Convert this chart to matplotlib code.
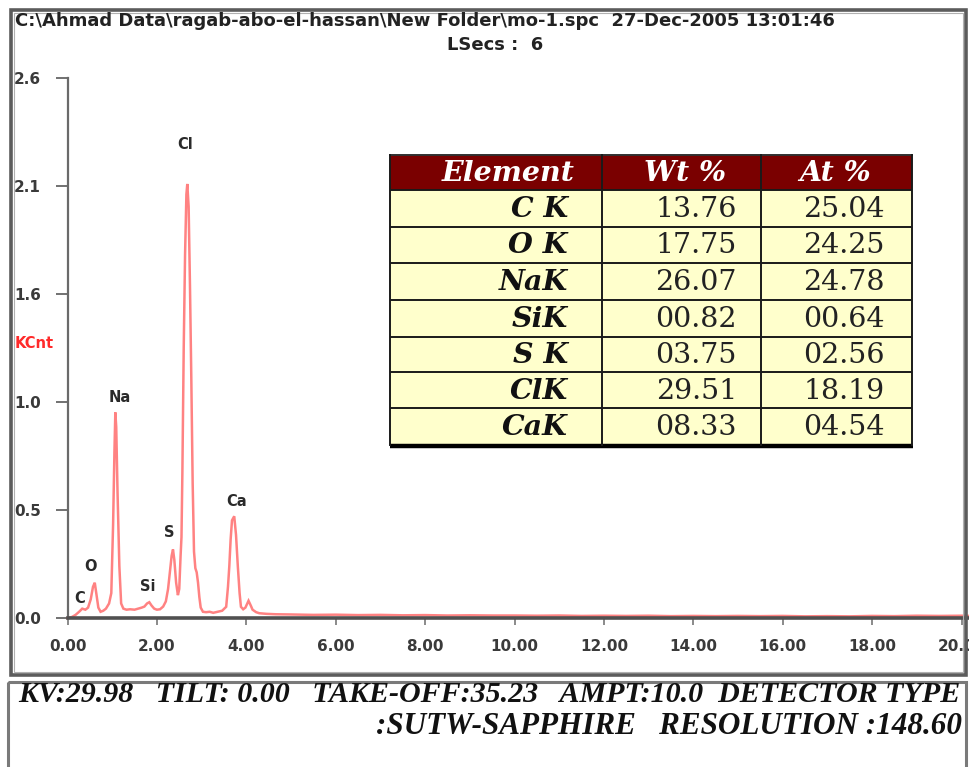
import matplotlib
matplotlib.use("Agg")
import matplotlib.pyplot as plt
from matplotlib.patches import Rectangle

# ---------------- data ----------------
energy_kev = [0.00, 0.10, 0.18, 0.26, 0.33, 0.40, 0.46, 0.52, 0.57, 0.61, 0.65, 0.69,
              0.74, 0.80, 0.86, 0.93, 0.98, 1.02, 1.05, 1.07, 1.09, 1.12, 1.16, 1.20,
              1.25, 1.32, 1.40, 1.50, 1.58, 1.66, 1.72, 1.78, 1.83, 1.88, 1.94, 2.00,
              2.07, 2.14, 2.20, 2.25, 2.29, 2.33, 2.36, 2.39, 2.43, 2.47, 2.50, 2.53,
              2.55, 2.57, 2.60, 2.63, 2.66, 2.68, 2.71, 2.74, 2.77, 2.80, 2.83, 2.86,
              2.89, 2.92, 2.95, 2.98, 3.03, 3.10, 3.18, 3.26, 3.36, 3.46, 3.55, 3.59,
              3.62, 3.65, 3.68, 3.73, 3.77, 3.81, 3.85, 3.88, 3.93, 3.98, 4.05, 4.10,
              4.14, 4.22, 4.29, 4.45, 4.66, 5.00, 5.50, 6.00, 6.50, 7.00, 7.50, 8.00,
              8.50, 9.00, 9.50, 10.00, 10.50, 11.00, 11.50, 12.00, 12.50, 13.00, 13.50,
              14.00, 14.50, 15.00, 15.50, 16.00, 16.50, 17.00, 17.50, 18.00, 18.50,
              19.00, 19.50, 20.00, 20.20]
counts_kcnt = [0.000, 0.005, 0.015, 0.030, 0.045, 0.040, 0.050, 0.090, 0.150, 0.170, 0.110, 0.050,
               0.030, 0.035, 0.045, 0.070, 0.120, 0.450, 0.800, 0.990, 0.920, 0.600, 0.250, 0.070,
               0.045, 0.040, 0.042, 0.040, 0.045, 0.050, 0.055, 0.070, 0.076, 0.060, 0.045, 0.040,
               0.042, 0.055, 0.080, 0.140, 0.220, 0.300, 0.330, 0.280, 0.170, 0.110, 0.140, 0.300,
               0.390, 0.700, 1.300, 1.750, 2.040, 2.090, 1.980, 1.600, 1.150, 0.650, 0.320, 0.240,
               0.220, 0.170, 0.100, 0.050, 0.030, 0.028, 0.030, 0.025, 0.030, 0.035, 0.054, 0.150,
               0.250, 0.380, 0.470, 0.490, 0.400, 0.250, 0.120, 0.054, 0.042, 0.050, 0.083, 0.060,
               0.040, 0.028, 0.023, 0.020, 0.018, 0.017, 0.015, 0.016, 0.014, 0.015, 0.013, 0.014,
               0.012, 0.013, 0.012, 0.012, 0.011, 0.012, 0.010, 0.011, 0.010, 0.011, 0.009,
               0.010, 0.009, 0.010, 0.009, 0.010, 0.008, 0.009, 0.008, 0.010, 0.009,
               0.011, 0.010, 0.011, 0.010]

peak_labels = ["C", "O", "Na", "Si", "S", "Cl", "Ca"]
peak_label_x = [0.27, 0.51, 1.18, 1.80, 2.27, 2.64, 3.78]
peak_label_y = [0.096, 0.25, 1.06, 0.15, 0.41, 2.28, 0.56]

x_tick_values = [0, 2, 4, 6, 8, 10, 12, 14, 16, 18, 20]
x_tick_labels = ["0.00", "2.00", "4.00", "6.00", "8.00", "10.00", "12.00",
                 "14.00", "16.00", "18.00", "20.00"]
y_tick_values = [0.0, 0.52, 1.04, 1.56, 2.08, 2.6]
y_tick_labels = ["0.0", "0.5", "1.0", "1.6", "2.1", "2.6"]

table_header = ["Element", "Wt %", "At %"]
table_elements = ["C K", "O K", "NaK", "SiK", "S K", "ClK", "CaK"]
table_wt = [13.76, 17.75, 26.07, 0.82, 3.75, 29.51, 8.33]
table_at = [25.04, 24.25, 24.78, 0.64, 2.56, 18.19, 4.54]

header_line1 = "C:\\Ahmad Data\\ragab-abo-el-hassan\\New Folder\\mo-1.spc  27-Dec-2005 13:01:46"
header_line2 = "LSecs :  6"
footer_line1 = "KV:29.98   TILT: 0.00   TAKE-OFF:35.23   AMPT:10.0  DETECTOR TYPE"
footer_line2 = ":SUTW-SAPPHIRE   RESOLUTION :148.60"

# ---------------- figure ----------------
W, H = 969, 767
fig = plt.figure(figsize=(W / 100, H / 100), dpi=100)
fig.patch.set_facecolor("white")

px_per_kev = 44.7
ax_left, ax_right = 67.5, 969
ax_bottom, ax_top = 618, 78
ax = fig.add_axes([ax_left / W, (H - ax_bottom) / H,
                   (ax_right - ax_left) / W, (ax_bottom - ax_top) / H])
ax.set_zorder(2)
ax.patch.set_alpha(0)
ax.plot(energy_kev, counts_kcnt, color="#ff4d4d", lw=1.8, alpha=0.7,
        solid_joinstyle="miter", clip_on=False)
ax.set_xlim(0, (ax_right - ax_left) / px_per_kev)
ax.set_ylim(0, 2.6)

for s in ["top", "right"]:
    ax.spines[s].set_visible(False)
ax.spines["left"].set_color("#6a6a6a")
ax.spines["left"].set_linewidth(1.6)
ax.spines["bottom"].set_color("#505050")
ax.spines["bottom"].set_linewidth(2.6)

ax.set_xticks(x_tick_values)
ax.set_xticklabels(x_tick_labels)
ax.set_yticks(y_tick_values)
ax.set_yticklabels(y_tick_labels)
ax.tick_params(axis="x", direction="out", length=5, width=1.2, color="#777777",
               pad=10, labelsize=11, labelcolor="#3a3a3a")
ax.tick_params(axis="y", direction="out", length=8.6, width=1.3, color="#666666",
               pad=30, labelsize=11, labelcolor="#3a3a3a")
for lab in ax.get_xticklabels() + ax.get_yticklabels():
    lab.set_fontweight("bold")
    lab.set_family("DejaVu Sans")
for lab in ax.get_yticklabels():
    lab.set_horizontalalignment("left")

for name, lx, ly in zip(peak_labels, peak_label_x, peak_label_y):
    ax.text(lx, ly, name, ha="center", va="center", fontsize=10.5,
            fontweight="bold", color="#2a2a2a", family="DejaVu Sans")

# ---------------- overlay (pixel coordinates) ----------------
ov = fig.add_axes([0, 0, 1, 1])
ov.set_xlim(0, W)
ov.set_ylim(H, 0)
ov.axis("off")
ov.set_zorder(3)
ov.patch.set_alpha(0)

# window frames
ov.add_patch(Rectangle((11, 10), 955, 665, fill=False, ec="#5c5c5c", lw=2.6))
ov.add_patch(Rectangle((14, 13), 949, 659, fill=False, ec="#b0b0b0", lw=0.8))
ov.add_patch(Rectangle((8, 682), 958, 100, fill=False, ec="#7a7a7a", lw=2.2))

# header texts
t1 = ov.text(15, 21, header_line1, ha="left", va="center", fontsize=11,
             fontweight="bold", color="#222222", family="DejaVu Sans")
t2 = ov.text(495, 45, header_line2, ha="center", va="center", fontsize=11,
             fontweight="bold", color="#222222", family="DejaVu Sans")
ov.text(15, 343, "KCnt", ha="left", va="center", fontsize=10.5,
        fontweight="bold", color="#ff2a2a", family="DejaVu Sans")

# footer texts
f1 = ov.text(18, 694, footer_line1, ha="left", va="center", fontsize=20,
             fontweight="bold", style="italic", color="#111111",
             family="Liberation Serif")
f2 = ov.text(962, 727, footer_line2, ha="right", va="center", fontsize=20,
             fontweight="bold", style="italic", color="#111111",
             family="Liberation Serif")

# table
tx0, tx1, tx2, tx3 = 390, 602, 761, 912
row_edges = [155, 190, 226.5, 263, 300, 336.7, 372.3, 408.3, 445]
ov.add_patch(Rectangle((tx0, row_edges[0]), tx3 - tx0, row_edges[1] - row_edges[0],
                       fc="#7a0000", ec="none"))
ov.add_patch(Rectangle((tx0, row_edges[1]), tx3 - tx0, row_edges[-1] - row_edges[1],
                       fc="#ffffcc", ec="none"))
for ye in row_edges[1:-1]:
    ov.plot([tx0, tx3], [ye, ye], color="#1a1a1a", lw=1.4, solid_capstyle="butt")
ov.plot([tx0, tx3], [row_edges[0], row_edges[0]], color="#303030", lw=1.4)
ov.plot([tx0, tx3 + 1], [row_edges[-1] + 1, row_edges[-1] + 1], color="#000000", lw=3.2,
        solid_capstyle="butt")
for xe in (tx0, tx1, tx2, tx3):
    ov.plot([xe, xe], [row_edges[0], row_edges[-1]], color="#1a1a1a", lw=1.4)

hy = (row_edges[0] + row_edges[1]) / 2
for txt, cx in zip(table_header, [508, 685, 835]):
    ov.text(cx, hy + 1, txt, ha="center", va="center", fontsize=20.5, color="white",
            fontweight="bold", style="italic", family="DejaVu Serif")
for i, (el, w, a) in enumerate(zip(table_elements, table_wt, table_at)):
    cy = (row_edges[i + 1] + row_edges[i + 2]) / 2 + 1
    ov.text(568, cy, el, ha="right", va="center", fontsize=20.5, color="#111111",
            fontweight="bold", style="italic", family="DejaVu Serif")
    ov.text(737, cy, "%05.2f" % w, ha="right", va="center", fontsize=20.5,
            color="#222222", family="DejaVu Serif")
    ov.text(885, cy, "%05.2f" % a, ha="right", va="center", fontsize=20.5,
            color="#222222", family="DejaVu Serif")

# fit wide texts to their measured widths
fig.canvas.draw()
r = fig.canvas.get_renderer()
for t, target in ((t1, 823), (f1, 942), (f2, 585)):
    bb = t.get_window_extent(r)
    t.set_fontsize(t.get_fontsize() * target / bb.width)
t2.set_fontsize(t1.get_fontsize())

fig.savefig("out.png", dpi=100, facecolor="white")
